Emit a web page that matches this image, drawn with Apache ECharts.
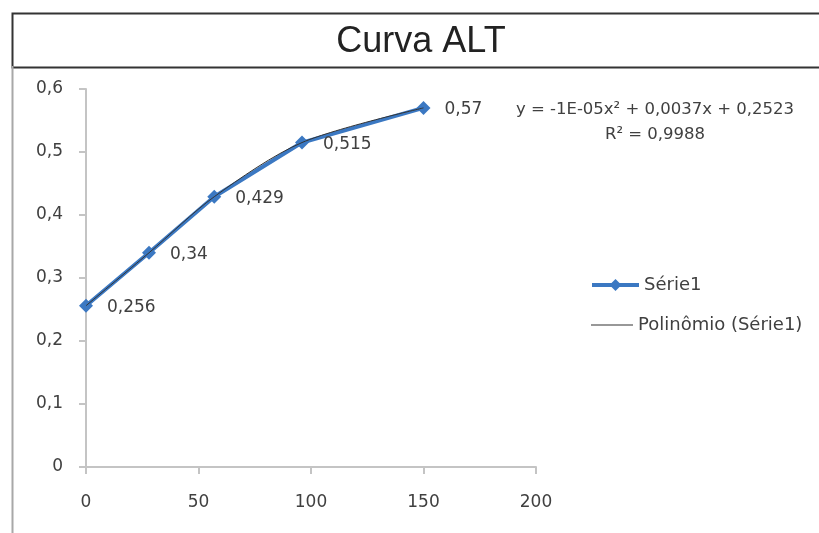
<!DOCTYPE html>
<html>
<head>
<meta charset="utf-8">
<script src="https://cdn.jsdelivr.net/npm/echarts@6/dist/echarts.min.js"></script>
<style>
html,body{margin:0;padding:0;background:#fff;}
#chart{width:819px;height:533px;}
</style>
</head>
<body>
<div id="chart"></div>
<script>
// ---- data ----
const titleText = 'Curva ALT';
const seriesName = 'Série1';
const trendName = 'Polinômio (Série1)';
const xValues = [0, 28, 57, 96, 150];
const yValues = [0.256, 0.34, 0.429, 0.515, 0.57];
const equationLines = ['y = -1E-05x² + 0,0037x + 0,2523', 'R² = 0,9988'];
const xTicks = [0, 50, 100, 150, 200];
const yTicks = [0, 0.1, 0.2, 0.3, 0.4, 0.5, 0.6];

const pts = xValues.map((x, i) => [x, yValues[i]]);
const fmt = v => String(v).replace('.', ',');
const FONT = 'DejaVu Sans';
const TXT = '#404040';
const BLUE = '#3b78c2';

const chart = echarts.init(document.getElementById('chart'), null, {renderer: 'canvas'});
chart.setOption({
  animation: false,
  backgroundColor: '#fff',
  grid: {left: 86, right: 283, top: 89, bottom: 66, containLabel: false},
  xAxis: {
    type: 'value', min: xTicks[0], max: xTicks[xTicks.length - 1], interval: xTicks[1] - xTicks[0],
    axisLine: {show: true, lineStyle: {color: '#c4c4c4', width: 2}},
    axisTick: {show: true, length: 7, lineStyle: {color: '#c4c4c4', width: 2}},
    splitLine: {show: false},
    axisLabel: {color: TXT, fontFamily: FONT, fontSize: 17, margin: 27}
  },
  yAxis: {
    type: 'value', min: yTicks[0], max: yTicks[yTicks.length - 1], interval: 0.1,
    axisLine: {show: true, lineStyle: {color: '#c4c4c4', width: 2}},
    axisTick: {show: true, length: 7, lineStyle: {color: '#c4c4c4', width: 2}},
    splitLine: {show: false},
    axisLabel: {color: TXT, fontFamily: FONT, fontSize: 17, margin: 23,
      formatter: v => v === 0 ? '0' : fmt(+v.toFixed(1))}
  },
  legend: [
    {data: [seriesName], orient: 'vertical', left: 590, top: 276, padding: 0,
     itemWidth: 47, itemHeight: 15, itemGap: 4,
     lineStyle: {width: 4, color: BLUE},
     textStyle: {color: TXT, fontFamily: FONT, fontSize: 18}},
    {data: [{name: trendName, icon: 'rect'}], orient: 'vertical', left: 591, top: 316, padding: 0,
     itemWidth: 42, itemHeight: 1.2, itemGap: 4,
     itemStyle: {color: '#333'},
     textStyle: {color: TXT, fontFamily: FONT, fontSize: 18}}
  ],
  series: [
    {
      name: seriesName, type: 'line', data: pts, z: 2,
      symbol: 'diamond', symbolSize: 14,
      itemStyle: {color: BLUE},
      lineStyle: {color: BLUE, width: 4},
      label: {show: true, position: 'right', distance: 14, offset: [0, 2],
        color: TXT, fontFamily: FONT, fontSize: 17,
        formatter: p => fmt(p.value[1])}
    },
    {
      name: trendName, type: 'line', data: pts, z: 3, smooth: 0.3,
      symbol: 'none', showSymbol: false,
      itemStyle: {color: '#333'},
      lineStyle: {color: '#333', width: 1}
    }
  ],
  graphic: [
    {type: 'rect', left: 10, top: 11, shape: {width: 830, height: 54},
     style: {fill: 'none', stroke: '#333', lineWidth: 2}, silent: true},
    {type: 'line', shape: {x1: 12.5, y1: 66, x2: 12.5, y2: 540},
     style: {stroke: '#a8a8a8', lineWidth: 2}, silent: true},
    {type: 'text', x: 421, y: 42,
     style: {text: titleText, fill: '#222', font: '36px "Liberation Sans"', textAlign: 'center', textVerticalAlign: 'middle'}},
    {type: 'text', x: 655, y: 110,
     style: {text: equationLines[0], fill: TXT, font: '16.5px "DejaVu Sans"', textAlign: 'center', textVerticalAlign: 'middle'}},
    {type: 'text', x: 655, y: 135,
     style: {text: equationLines[1], fill: TXT, font: '16.5px "DejaVu Sans"', textAlign: 'center', textVerticalAlign: 'middle'}}
  ]
});
</script>
</body>
</html>
